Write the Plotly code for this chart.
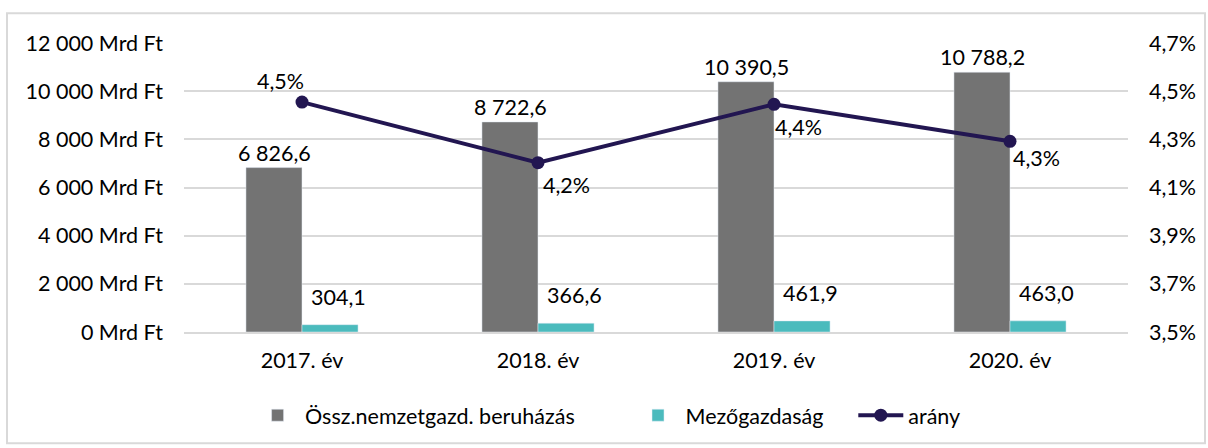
import plotly.graph_objs as go

years = ["2017. év", "2018. év", "2019. év", "2020. év"]
total = [6826.6, 8722.6, 10390.5, 10788.2]
agri = [304.1, 366.6, 461.9, 463.0]
ratio = [a / t * 100 for a, t in zip(agri, total)]

FONT = "Lato"
FS = 21.5
GRAY = "#737373"
TEAL = "#4BBBBD"
NAVY = "#221651"


def hu(v, dec=1):
    s = f"{v:,.{dec}f}"
    return s.replace(",", " ").replace(".", ",")


fig = go.Figure()
fig.add_trace(go.Bar(x=years, y=total, name="Össz.nemzetgazd. beruházás",
                     marker=dict(color=GRAY), offsetgroup="a", legend="legend"))
fig.add_trace(go.Bar(x=years, y=agri, name="Mezőgazdaság",
                     marker=dict(color=TEAL), offsetgroup="b", legend="legend2"))
fig.add_trace(go.Scatter(x=years, y=ratio, name="arány", yaxis="y2",
                         mode="lines+markers", legend="legend3",
                         line=dict(color=NAVY, width=4),
                         marker=dict(color=NAVY, size=13)))

# data labels
for x, v in zip(years, total):
    fig.add_annotation(x=x, y=v, text=hu(v), showarrow=False, xshift=-28,
                       yanchor="bottom", yshift=0, font=dict(size=FS, color="black"))
for x, v in zip(years, agri):
    fig.add_annotation(x=x, y=v, text=hu(v), showarrow=False, xshift=36,
                       yanchor="bottom", yshift=13, font=dict(size=FS, color="black"))
line_off = [(-22, 21), (28, -22), (24, -23), (26, -17)]
for x, v, (dx, dy) in zip(years, ratio, line_off):
    fig.add_annotation(x=x, y=v, yref="y2", text=hu(v) + "%", showarrow=False,
                       xshift=dx, yshift=dy, font=dict(size=FS, color="black"))

leg = dict(orientation="h", xanchor="left", y=-0.217, yanchor="top",
           font=dict(size=FS), itemwidth=45, bgcolor="rgba(0,0,0,0)")

fig.update_layout(
    width=1208, height=448,
    margin=dict(l=184, r=80, t=43, b=114),
    paper_bgcolor="white", plot_bgcolor="white",
    font=dict(family=FONT, size=FS, color="black"),
    barmode="group", bargap=0.525, bargroupgap=0,
    showlegend=True,
    legend=dict(leg, x=0.07),
    legend2=dict(leg, x=0.473),
    legend3=dict(leg, x=0.709),
    xaxis=dict(showgrid=False, showline=True, linecolor="#d9d9d9", linewidth=2,
               ticks="", tickfont=dict(size=FS), ticklabelstandoff=8),
    yaxis=dict(range=[0, 12000], showgrid=True, gridcolor="#d9d9d9",
               gridwidth=2, zeroline=False, ticks="", tickfont=dict(size=FS),
               ticklabelstandoff=20,
               tickvals=[0, 2000, 4000, 6000, 8000, 10000, 12000],
               ticktext=[hu(v, 0) + " Mrd Ft" for v in [0, 2000, 4000, 6000, 8000, 10000, 12000]]),
    yaxis2=dict(range=[3.5, 4.7], overlaying="y", side="right", showgrid=False,
                zeroline=False, tickvals=[3.5, 3.7, 3.9, 4.1, 4.3, 4.5, 4.7],
                ticklabelstandoff=20,
                ticktext=[hu(v) + "%" for v in [3.5, 3.7, 3.9, 4.1, 4.3, 4.5, 4.7]],
                tickfont=dict(size=FS)),
)
fig.add_shape(type="rect", xref="paper", yref="paper",
              x0=-177 / 944, x1=1 + 77 / 944, y0=-112 / 291, y1=1 + 30 / 291,
              line=dict(color="#d9d9d9", width=2))

fig.write_html("out.html", config={"displayModeBar": False},
               post_script="document.body.style.margin='0';")
